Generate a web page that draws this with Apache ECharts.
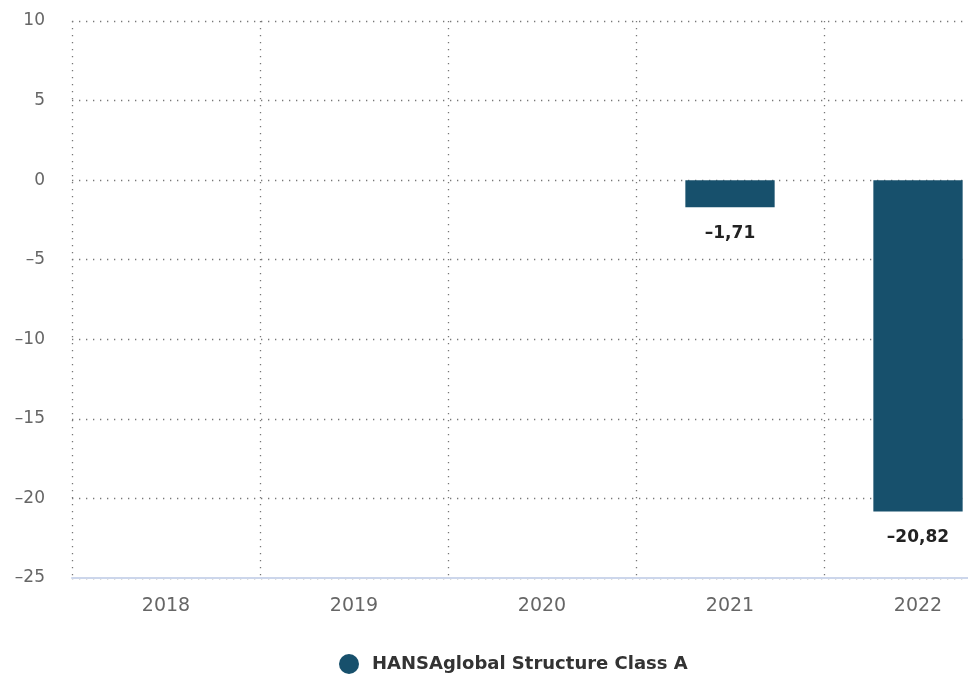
<!DOCTYPE html>
<html>
<head>
<meta charset="utf-8">
<script src="https://cdn.jsdelivr.net/npm/echarts@6/dist/echarts.min.js"></script>
<style>
  html, body { margin: 0; padding: 0; background: #fff; overflow: hidden; }
  /* the original chart is wider than the picture and is cut on the right */
  #panel { width: 1012px; height: 675px; }
</style>
</head>
<body>
<div id="panel"></div>
<script>
  const years = ["2018", "2019", "2020", "2021", "2022"];
  const returns = [null, null, null, -1.71, -20.82];
  const seriesName = "HANSAglobal Structure Class A";

  // short dash and decimal comma, like the original
  const fmt = v => String(v).replace("-", "\u2013").replace(".", ",");

  let panel = echarts.init(document.getElementById("panel"));
  let option = {
    animation: false,
    textStyle: { fontFamily: "DejaVu Sans" },
    grid: {
      left: 72,
      right: 0,
      top: 21,
      bottom: 97
    },
    legend: {
      top: 649,
      left: 334,
      icon: "circle",
      itemWidth: 20,
      itemHeight: 20,
      itemGap: 8,
      textStyle: { color: "#333", fontSize: 18, fontWeight: "bold", padding: [0, 0, 0, 8] },
      data: [seriesName]
    },
    xAxis: {
      type: "category",
      data: years,
      axisTick: { show: false },
      axisLine: { onZero: false, lineStyle: { color: "#ccd6eb", width: 2 } },
      axisLabel: { color: "#666", fontSize: 19, margin: 19 },
      splitLine: { show: true, lineStyle: { color: "#777", type: [1.3, 5.7], width: 1.3 } }
    },
    yAxis: {
      type: "value",
      min: -25,
      max: 10,
      interval: 5,
      axisLine: { show: false },
      axisTick: { show: false },
      axisLabel: { color: "#666", fontSize: 17, margin: 27, formatter: v => fmt(v) },
      splitLine: { lineStyle: { color: "#777", type: [1.3, 5.7], width: 1.3 } }
    },
    series: [{
      name: seriesName,
      type: "bar",
      data: returns,
      barWidth: "47.5%",
      itemStyle: { color: "#17506c" },
      label: {
        show: true,
        position: "bottom",
        distance: 18,
        color: "#222",
        fontSize: 17,
        fontWeight: "bold",
        formatter: p => fmt(p.value)
      }
    }]
  };
  panel.setOption(option, true);
</script>
</body>
</html>
